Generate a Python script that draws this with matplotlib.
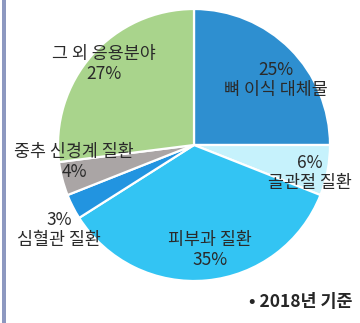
import matplotlib
matplotlib.use("Agg")
import matplotlib.pyplot as plt
from matplotlib.patches import Rectangle

plt.rcParams['font.family'] = ['Noto Sans CJK KR', 'DejaVu Sans']

# Application shares (%), clockwise from 12 o'clock
categories = ["뼈 이식 대체물", "골관절 질환", "피부과 질환", "심혈관 질환", "중추 신경계 질환", "그 외 응용분야"]
shares = [25, 6, 35, 3, 4, 27]
colors = ["#2e8fd0", "#c6f2fc", "#33c4f3", "#2294e0", "#aaa5a5", "#a9d48c"]
note = "• 2018년 기준"

W, H = 360, 323
fig = plt.figure(figsize=(W / 100, H / 100), dpi=100)
fig.patch.set_facecolor("white")

# pie centre and radius in pixels
cx, cy, r = 194, 145, 136
ax = fig.add_axes([(cx - r) / W, (H - cy - r) / H, 2 * r / W, 2 * r / H])
ax.pie(shares, colors=colors, startangle=90, counterclock=False, radius=1,
       wedgeprops=dict(edgecolor="white", linewidth=1.6))
ax.set_xlim(-1, 1)
ax.set_ylim(-1, 1)
ax.set_aspect("equal")
ax.axis("off")


def label(px, py, text, size=12.5):
    ax.text((px - cx) / r, (cy - py) / r, text, ha="center", va="center",
            fontsize=size, color="#2a2a2a", linespacing=1.15, clip_on=False,
            fontweight="medium")


# label anchor points in pixels (centre of each text block)
label(276, 80, f"{shares[0]}%\n{categories[0]}")
label(310, 173, f"{shares[1]}%\n{categories[1]}")
label(210, 250, f"{categories[2]}\n{shares[2]}%")
label(59, 230, f"{shares[3]}%\n{categories[3]}")
label(74, 162, f"{categories[4]}\n{shares[4]}%")
label(104, 64, f"{categories[5]}\n{shares[5]}%")

fig.text(301 / W, 1 - 302 / H, note, ha="center", va="center",
         fontsize=12.5, color="#262626", fontweight="bold")

# left frame strip
fig.patches.append(Rectangle((2 / W, 0), 4 / W, 1, transform=fig.transFigure,
                             facecolor="#8d98c0", edgecolor="none"))

fig.savefig("out.png", dpi=100)
